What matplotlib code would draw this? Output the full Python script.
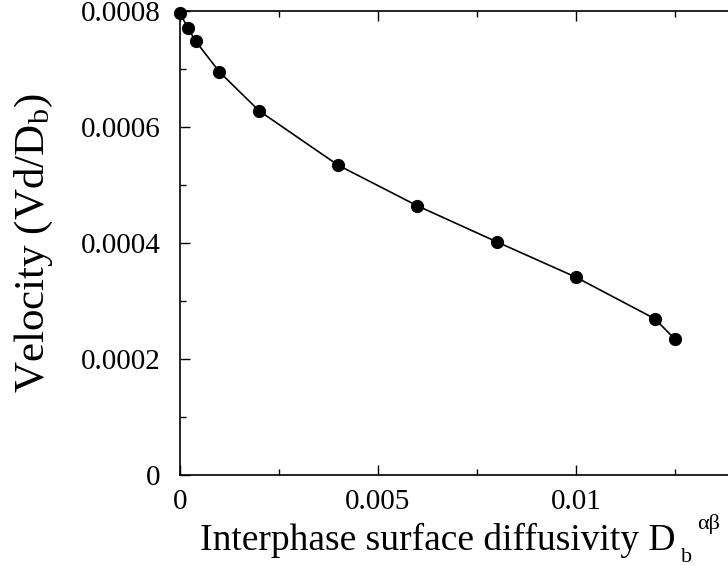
import numpy as np
from matplotlib import pyplot as plt

plt.rcParams['font.family'] = ['Liberation Serif', 'DejaVu Serif']
plt.rcParams['mathtext.fontset'] = 'custom'
plt.rcParams['mathtext.rm'] = 'Liberation Serif'
plt.rcParams['mathtext.it'] = 'Liberation Serif:italic'

# diffusivity vs velocity
diffusivity = [0.0, 0.0002, 0.0004, 0.001, 0.002, 0.004, 0.006, 0.008, 0.010, 0.012, 0.0125]
velocity = [0.000797, 0.000771, 0.000748, 0.000695, 0.000628, 0.000534,
            0.000464, 0.000402, 0.000341, 0.000269, 0.000234]

xticks = [0, 0.005, 0.01]
xticklabels = ['0', '0.005', '0.01']
yticks = [0, 0.0002, 0.0004, 0.0006, 0.0008]
yticklabels = ['0', '0.0002', '0.0004', '0.0006', '0.0008']

fig = plt.figure(figsize=(7.28, 5.66), dpi=100)
# axes runs past the right edge of the picture, as in the original
ax = fig.add_axes([0.247, 0.161, 0.816, 0.8195])

ax.plot(diffusivity, velocity, color='k', lw=1.2, marker='o', ms=8.5,
        mfc='k', mec='k', clip_on=False, zorder=3)

ax.set_xlim(0, 0.015)
ax.set_ylim(0, 0.0008)
ax.set_xticks(xticks)
ax.set_xticklabels(xticklabels)
ax.set_xticks(np.arange(0, 0.0151, 0.0025), minor=True)
ax.set_yticks(yticks)
ax.set_yticklabels(yticklabels)
ax.set_yticks(np.arange(0, 0.00081, 0.0001), minor=True)

ax.tick_params(which='both', direction='in', top=True, right=True,
               labelsize=21, width=1)
ax.tick_params(which='major', length=7)
ax.tick_params(which='minor', length=4)
ax.tick_params(axis='x', pad=10)
ax.tick_params(axis='y', pad=14)
for s in ax.spines.values():
    s.set_linewidth(1.2)

# x label with xmgrace-style sub/superscript placed by hand
xl = ax.set_xlabel('Interphase surface diffusivity D', fontsize=27, ha='left')
ax.xaxis.set_label_coords(0.034, -0.103)
ax.annotate('b', xy=(1, 0), xycoords=xl, xytext=(5, -4), textcoords='offset pixels',
            fontsize=16, ha='left', va='baseline', annotation_clip=False)
ax.annotate('αβ', xy=(1, 0), xycoords=xl, xytext=(22, 29), textcoords='offset pixels',
            fontsize=16, ha='left', va='baseline', annotation_clip=False)

ax.set_ylabel(r'Velocity (Vd/D$_{\mathrm{b}}$)', fontsize=31)
ax.yaxis.set_label_coords(-0.21, 0.5)

fig.savefig('out.png', dpi=100)
